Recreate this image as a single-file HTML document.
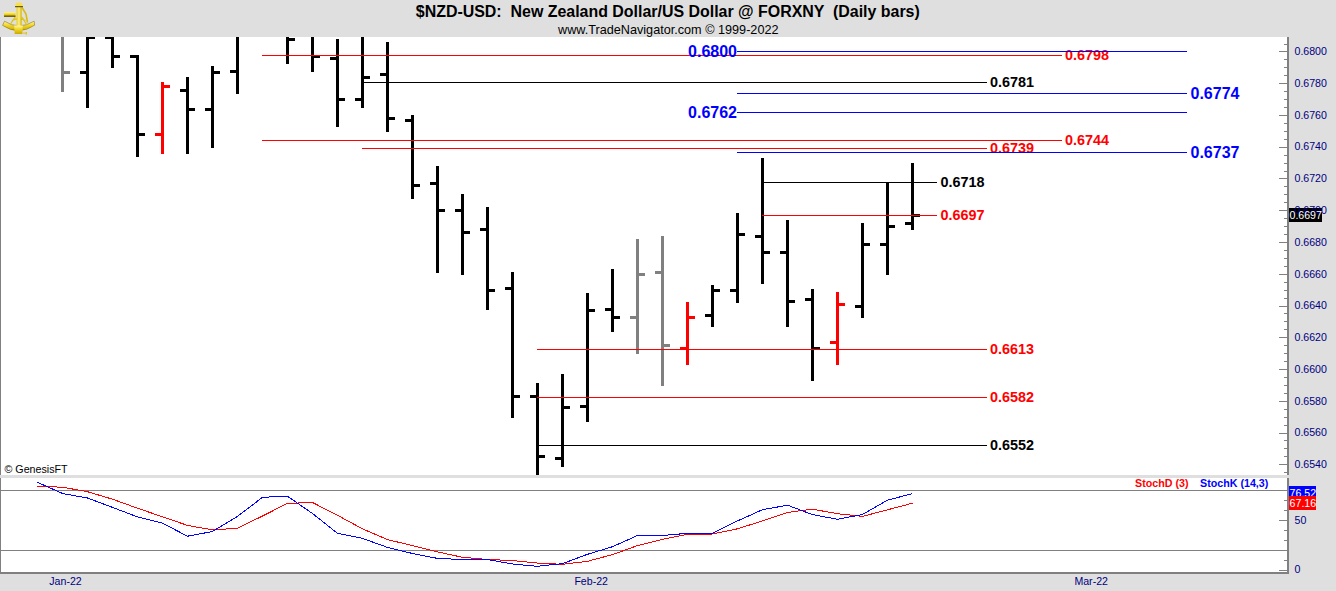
<!DOCTYPE html>
<html><head><meta charset="utf-8"><title>NZD-USD</title>
<style>html,body{margin:0;padding:0;width:1336px;height:591px;overflow:hidden;background:#dfdfdf;}
svg text{font-family:"Liberation Sans",sans-serif;}</style></head>
<body>
<svg width="1336" height="591" viewBox="0 0 1336 591" style="position:absolute;left:0;top:0;font-family:'Liberation Sans',sans-serif">
<rect x="0" y="0" width="1336" height="591" fill="#dfdfdf"/>
<g shape-rendering="crispEdges">
<rect x="0" y="37" width="1287" height="438" fill="#fff"/>
<rect x="0" y="478" width="1287" height="94" fill="#fff"/>
<rect x="0" y="37" width="1" height="438" fill="#808080"/>
<rect x="0" y="478" width="1" height="96" fill="#808080"/>
<rect x="0" y="572" width="1289" height="2" fill="#808080"/>
<rect x="1287" y="37" width="2" height="438" fill="#808080"/>
<rect x="1287" y="478" width="2" height="96" fill="#808080"/>
<rect x="1" y="490" width="1286" height="1" fill="#808080"/>
<rect x="1" y="550" width="1286" height="1" fill="#808080"/>
<rect x="1284" y="44" width="3" height="1" fill="#808080"/><rect x="1279" y="51" width="8" height="1" fill="#808080"/><rect x="1284" y="59" width="3" height="1" fill="#808080"/><rect x="1284" y="67" width="3" height="1" fill="#808080"/><rect x="1284" y="75" width="3" height="1" fill="#808080"/><rect x="1279" y="83" width="8" height="1" fill="#808080"/><rect x="1284" y="91" width="3" height="1" fill="#808080"/><rect x="1284" y="99" width="3" height="1" fill="#808080"/><rect x="1284" y="107" width="3" height="1" fill="#808080"/><rect x="1279" y="115" width="8" height="1" fill="#808080"/><rect x="1284" y="123" width="3" height="1" fill="#808080"/><rect x="1284" y="131" width="3" height="1" fill="#808080"/><rect x="1284" y="139" width="3" height="1" fill="#808080"/><rect x="1279" y="147" width="8" height="1" fill="#808080"/><rect x="1284" y="155" width="3" height="1" fill="#808080"/><rect x="1284" y="163" width="3" height="1" fill="#808080"/><rect x="1284" y="171" width="3" height="1" fill="#808080"/><rect x="1279" y="178" width="8" height="1" fill="#808080"/><rect x="1284" y="186" width="3" height="1" fill="#808080"/><rect x="1284" y="194" width="3" height="1" fill="#808080"/><rect x="1284" y="202" width="3" height="1" fill="#808080"/><rect x="1279" y="210" width="8" height="1" fill="#808080"/><rect x="1284" y="218" width="3" height="1" fill="#808080"/><rect x="1284" y="226" width="3" height="1" fill="#808080"/><rect x="1284" y="234" width="3" height="1" fill="#808080"/><rect x="1279" y="242" width="8" height="1" fill="#808080"/><rect x="1284" y="250" width="3" height="1" fill="#808080"/><rect x="1284" y="258" width="3" height="1" fill="#808080"/><rect x="1284" y="266" width="3" height="1" fill="#808080"/><rect x="1279" y="274" width="8" height="1" fill="#808080"/><rect x="1284" y="282" width="3" height="1" fill="#808080"/><rect x="1284" y="290" width="3" height="1" fill="#808080"/><rect x="1284" y="298" width="3" height="1" fill="#808080"/><rect x="1279" y="306" width="8" height="1" fill="#808080"/><rect x="1284" y="313" width="3" height="1" fill="#808080"/><rect x="1284" y="321" width="3" height="1" fill="#808080"/><rect x="1284" y="329" width="3" height="1" fill="#808080"/><rect x="1279" y="337" width="8" height="1" fill="#808080"/><rect x="1284" y="345" width="3" height="1" fill="#808080"/><rect x="1284" y="353" width="3" height="1" fill="#808080"/><rect x="1284" y="361" width="3" height="1" fill="#808080"/><rect x="1279" y="369" width="8" height="1" fill="#808080"/><rect x="1284" y="377" width="3" height="1" fill="#808080"/><rect x="1284" y="385" width="3" height="1" fill="#808080"/><rect x="1284" y="393" width="3" height="1" fill="#808080"/><rect x="1279" y="401" width="8" height="1" fill="#808080"/><rect x="1284" y="409" width="3" height="1" fill="#808080"/><rect x="1284" y="417" width="3" height="1" fill="#808080"/><rect x="1284" y="425" width="3" height="1" fill="#808080"/><rect x="1279" y="433" width="8" height="1" fill="#808080"/><rect x="1284" y="440" width="3" height="1" fill="#808080"/><rect x="1284" y="448" width="3" height="1" fill="#808080"/><rect x="1284" y="456" width="3" height="1" fill="#808080"/><rect x="1279" y="464" width="8" height="1" fill="#808080"/><rect x="1284" y="472" width="3" height="1" fill="#808080"/>
<rect x="1279" y="570" width="8" height="1" fill="#808080"/><rect x="1284" y="560" width="3" height="1" fill="#808080"/><rect x="1284" y="550" width="3" height="1" fill="#808080"/><rect x="1284" y="540" width="3" height="1" fill="#808080"/><rect x="1284" y="530" width="3" height="1" fill="#808080"/><rect x="1279" y="520" width="8" height="1" fill="#808080"/><rect x="1284" y="510" width="3" height="1" fill="#808080"/><rect x="1284" y="500" width="3" height="1" fill="#808080"/><rect x="1284" y="490" width="3" height="1" fill="#808080"/>
<rect x="61" y="37" width="3" height="55" fill="#808080"/><rect x="64" y="71" width="6" height="3" fill="#808080"/><rect x="86" y="37" width="3" height="71" fill="#000"/><rect x="80" y="71" width="6" height="3" fill="#000"/><rect x="89" y="37" width="6" height="2" fill="#000"/><rect x="111" y="37" width="3" height="31" fill="#000"/><rect x="105" y="37" width="6" height="2" fill="#000"/><rect x="114" y="55" width="6" height="3" fill="#000"/><rect x="136" y="55" width="3" height="102" fill="#000"/><rect x="130" y="55" width="6" height="3" fill="#000"/><rect x="139" y="133" width="6" height="3" fill="#000"/><rect x="161" y="82" width="3" height="72" fill="#f00"/><rect x="155" y="133" width="6" height="3" fill="#f00"/><rect x="164" y="85" width="6" height="3" fill="#f00"/><rect x="186" y="77" width="3" height="77" fill="#000"/><rect x="180" y="89" width="6" height="3" fill="#000"/><rect x="189" y="108" width="6" height="3" fill="#000"/><rect x="211" y="66" width="3" height="82" fill="#000"/><rect x="205" y="108" width="6" height="3" fill="#000"/><rect x="214" y="71" width="6" height="3" fill="#000"/><rect x="236" y="37" width="3" height="57" fill="#000"/><rect x="230" y="70" width="6" height="3" fill="#000"/><rect x="286" y="37" width="3" height="27" fill="#000"/><rect x="289" y="38" width="6" height="3" fill="#000"/><rect x="311" y="37" width="3" height="35" fill="#000"/><rect x="314" y="55" width="6" height="3" fill="#000"/><rect x="336" y="39" width="3" height="88" fill="#000"/><rect x="330" y="57" width="6" height="3" fill="#000"/><rect x="339" y="98" width="6" height="3" fill="#000"/><rect x="361" y="37" width="3" height="71" fill="#000"/><rect x="355" y="98" width="6" height="3" fill="#000"/><rect x="364" y="76" width="6" height="3" fill="#000"/><rect x="386" y="42" width="3" height="90" fill="#000"/><rect x="380" y="73" width="6" height="3" fill="#000"/><rect x="389" y="117" width="6" height="3" fill="#000"/><rect x="411" y="115" width="3" height="84" fill="#000"/><rect x="405" y="119" width="6" height="3" fill="#000"/><rect x="414" y="184" width="6" height="3" fill="#000"/><rect x="436" y="166" width="3" height="107" fill="#000"/><rect x="430" y="182" width="6" height="3" fill="#000"/><rect x="439" y="209" width="6" height="3" fill="#000"/><rect x="461" y="194" width="3" height="81" fill="#000"/><rect x="455" y="209" width="6" height="3" fill="#000"/><rect x="464" y="231" width="6" height="3" fill="#000"/><rect x="486" y="207" width="3" height="103" fill="#000"/><rect x="480" y="228" width="6" height="3" fill="#000"/><rect x="489" y="289" width="6" height="3" fill="#000"/><rect x="511" y="272" width="3" height="146" fill="#000"/><rect x="505" y="287" width="6" height="3" fill="#000"/><rect x="514" y="395" width="6" height="3" fill="#000"/><rect x="536" y="383" width="3" height="92" fill="#000"/><rect x="530" y="395" width="6" height="3" fill="#000"/><rect x="539" y="455" width="6" height="3" fill="#000"/><rect x="561" y="374" width="3" height="93" fill="#000"/><rect x="555" y="457" width="6" height="3" fill="#000"/><rect x="564" y="406" width="6" height="3" fill="#000"/><rect x="586" y="293" width="3" height="129" fill="#000"/><rect x="580" y="405" width="6" height="3" fill="#000"/><rect x="589" y="309" width="6" height="3" fill="#000"/><rect x="611" y="269" width="3" height="63" fill="#000"/><rect x="605" y="308" width="6" height="3" fill="#000"/><rect x="614" y="316" width="6" height="3" fill="#000"/><rect x="636" y="239" width="3" height="115" fill="#808080"/><rect x="630" y="316" width="6" height="3" fill="#808080"/><rect x="639" y="273" width="6" height="3" fill="#808080"/><rect x="661" y="236" width="3" height="150" fill="#808080"/><rect x="655" y="271" width="6" height="3" fill="#808080"/><rect x="664" y="344" width="6" height="3" fill="#808080"/><rect x="686" y="302" width="3" height="63" fill="#f00"/><rect x="680" y="347" width="6" height="3" fill="#f00"/><rect x="689" y="316" width="6" height="3" fill="#f00"/><rect x="711" y="285" width="3" height="42" fill="#000"/><rect x="705" y="314" width="6" height="3" fill="#000"/><rect x="714" y="289" width="6" height="3" fill="#000"/><rect x="736" y="213" width="3" height="90" fill="#000"/><rect x="730" y="289" width="6" height="3" fill="#000"/><rect x="739" y="233" width="6" height="3" fill="#000"/><rect x="761" y="158" width="3" height="126" fill="#000"/><rect x="755" y="235" width="6" height="3" fill="#000"/><rect x="764" y="251" width="6" height="3" fill="#000"/><rect x="786" y="220" width="3" height="107" fill="#000"/><rect x="780" y="251" width="6" height="3" fill="#000"/><rect x="789" y="300" width="6" height="3" fill="#000"/><rect x="811" y="289" width="3" height="92" fill="#000"/><rect x="805" y="298" width="6" height="3" fill="#000"/><rect x="814" y="347" width="6" height="3" fill="#000"/><rect x="836" y="292" width="3" height="73" fill="#f00"/><rect x="830" y="341" width="6" height="3" fill="#f00"/><rect x="839" y="303" width="6" height="3" fill="#f00"/><rect x="861" y="223" width="3" height="95" fill="#000"/><rect x="855" y="305" width="6" height="3" fill="#000"/><rect x="864" y="243" width="6" height="3" fill="#000"/><rect x="886" y="183" width="3" height="92" fill="#000"/><rect x="880" y="243" width="6" height="3" fill="#000"/><rect x="889" y="225" width="6" height="3" fill="#000"/><rect x="911" y="163" width="3" height="67" fill="#000"/><rect x="905" y="222" width="6" height="3" fill="#000"/><rect x="914" y="214" width="6" height="3" fill="#000"/>
<rect x="1289" y="208" width="33" height="14" fill="#000"/>
<rect x="1289" y="486" width="27" height="10" fill="#00f"/>
</g>
<polyline points="37.5,486.3 62.5,487.2 87.5,491.7 112.5,499.2 137.5,508.2 162.5,516.8 187.5,525.4 212.5,529.9 237.5,528.3 262.5,516 287.5,503.4 312.5,502.5 337.5,515.3 362.5,528.8 387.5,539.6 412.5,545.6 437.5,551.9 462.5,557.3 487.5,559.5 512.5,560.5 537.5,563.1 562.5,564.3 587.5,561.3 612.5,554.6 637.5,545.6 662.5,539.3 687.5,534.4 712.5,534 737.5,528.8 762.5,520.9 787.5,512.4 812.5,509.2 837.5,513.7 862.5,516.4 887.5,509.8 912.5,503.2" fill="none" stroke="#f00" stroke-width="1" shape-rendering="crispEdges"/>
<polyline points="37.5,482.3 62.5,493.5 87.5,498 112.5,507.4 137.5,516.9 162.5,523.2 187.5,536.2 212.5,531.5 237.5,516.4 262.5,497.3 287.5,496.2 312.5,513.5 337.5,533.3 362.5,538.4 387.5,547.4 412.5,553.5 437.5,558.4 462.5,559.5 487.5,559.5 512.5,564 537.5,566.3 562.5,563.6 587.5,554.3 612.5,546.7 637.5,535.5 662.5,535.5 687.5,533.3 712.5,533.3 737.5,520.9 762.5,509.7 787.5,505.2 812.5,514.6 837.5,519.3 862.5,514.5 887.5,500.2 912.5,493.6" fill="none" stroke="#00f" stroke-width="1" shape-rendering="crispEdges"/>
<rect x="262" y="55" width="800" height="1" fill="#f00" shape-rendering="crispEdges"/><text x="1065" y="59.85" fill="#f00" font-size="15.2" font-weight="bold" textLength="44" lengthAdjust="spacingAndGlyphs" text-anchor="start">0.6798</text><rect x="262" y="140" width="800" height="1" fill="#f00" shape-rendering="crispEdges"/><text x="1065" y="144.85" fill="#f00" font-size="15.2" font-weight="bold" textLength="44" lengthAdjust="spacingAndGlyphs" text-anchor="start">0.6744</text><rect x="362" y="148" width="625" height="1" fill="#f00" shape-rendering="crispEdges"/><text x="990" y="152.85" fill="#f00" font-size="15.2" font-weight="bold" textLength="44" lengthAdjust="spacingAndGlyphs" text-anchor="start">0.6739</text><rect x="762" y="215" width="175" height="1" fill="#f00" shape-rendering="crispEdges"/><text x="940.5" y="219.85" fill="#f00" font-size="15.2" font-weight="bold" textLength="44" lengthAdjust="spacingAndGlyphs" text-anchor="start">0.6697</text><rect x="537" y="349" width="450" height="1" fill="#f00" shape-rendering="crispEdges"/><text x="990" y="353.85" fill="#f00" font-size="15.2" font-weight="bold" textLength="44" lengthAdjust="spacingAndGlyphs" text-anchor="start">0.6613</text><rect x="537" y="397" width="450" height="1" fill="#f00" shape-rendering="crispEdges"/><text x="990" y="401.85" fill="#f00" font-size="15.2" font-weight="bold" textLength="44" lengthAdjust="spacingAndGlyphs" text-anchor="start">0.6582</text><rect x="362" y="82" width="625" height="1" fill="#000" shape-rendering="crispEdges"/><text x="990" y="86.85" fill="#000" font-size="15.2" font-weight="bold" textLength="44" lengthAdjust="spacingAndGlyphs" text-anchor="start">0.6781</text><rect x="762" y="182" width="175" height="1" fill="#000" shape-rendering="crispEdges"/><text x="940.5" y="186.85" fill="#000" font-size="15.2" font-weight="bold" textLength="44" lengthAdjust="spacingAndGlyphs" text-anchor="start">0.6718</text><rect x="537" y="445" width="450" height="1" fill="#000" shape-rendering="crispEdges"/><text x="990" y="449.85" fill="#000" font-size="15.2" font-weight="bold" textLength="44" lengthAdjust="spacingAndGlyphs" text-anchor="start">0.6552</text><rect x="737" y="51" width="450" height="1" fill="#00f" shape-rendering="crispEdges"/><text x="737" y="57.23" fill="#00f" font-size="16" font-weight="bold" text-anchor="end">0.6800</text><rect x="737" y="93" width="450" height="1" fill="#00f" shape-rendering="crispEdges"/><text x="1190.5" y="99.23" fill="#00f" font-size="16" font-weight="bold" text-anchor="start">0.6774</text><rect x="737" y="112" width="450" height="1" fill="#00f" shape-rendering="crispEdges"/><text x="737" y="118.23" fill="#00f" font-size="16" font-weight="bold" text-anchor="end">0.6762</text><rect x="737" y="152" width="450" height="1" fill="#00f" shape-rendering="crispEdges"/><text x="1190.5" y="158.23" fill="#00f" font-size="16" font-weight="bold" text-anchor="start">0.6737</text>
<text x="1294.5" y="55.20" fill="#000080" font-size="10.6">0.6800</text><text x="1294.5" y="86.96" fill="#000080" font-size="10.6">0.6780</text><text x="1294.5" y="118.72" fill="#000080" font-size="10.6">0.6760</text><text x="1294.5" y="150.48" fill="#000080" font-size="10.6">0.6740</text><text x="1294.5" y="182.24" fill="#000080" font-size="10.6">0.6720</text><text x="1294.5" y="214.00" fill="#000080" font-size="10.6">0.6700</text><text x="1294.5" y="245.76" fill="#000080" font-size="10.6">0.6680</text><text x="1294.5" y="277.52" fill="#000080" font-size="10.6">0.6660</text><text x="1294.5" y="309.28" fill="#000080" font-size="10.6">0.6640</text><text x="1294.5" y="341.04" fill="#000080" font-size="10.6">0.6620</text><text x="1294.5" y="372.80" fill="#000080" font-size="10.6">0.6600</text><text x="1294.5" y="404.56" fill="#000080" font-size="10.6">0.6580</text><text x="1294.5" y="436.32" fill="#000080" font-size="10.6">0.6560</text><text x="1294.5" y="468.08" fill="#000080" font-size="10.6">0.6540</text>
<text x="1294.5" y="524.2" fill="#000080" font-size="10.6">50</text><text x="1294.5" y="573.2" fill="#000080" font-size="10.6">0</text>
<text x="1289.5" y="219" fill="#fff" font-size="10.6">0.6697</text>
<text x="1289.6" y="497" fill="#fff" font-size="10.6">76.52</text>
<rect x="1289" y="496" width="27" height="14" fill="#f00" shape-rendering="crispEdges"/>
<text x="1289.6" y="507" fill="#fff" font-size="10.6">67.16</text>
<text x="415.8" y="16.8" fill="#000" font-size="16" font-weight="bold" textLength="504" lengthAdjust="spacingAndGlyphs" xml:space="preserve">$NZD-USD:  New Zealand Dollar/US Dollar @ FORXNY  (Daily bars)</text>
<text x="558" y="34" fill="#000" font-size="13" textLength="220.5" lengthAdjust="spacingAndGlyphs">www.TradeNavigator.com © 1999-2022</text>
<text x="4.5" y="473" fill="#000" font-size="10.7">© GenesisFT</text>
<text x="1135" y="486.7" fill="#f00" font-size="10.7" font-weight="bold">StochD (3)</text>
<text x="1200" y="486.7" fill="#00f" font-size="10.7" font-weight="bold">StochK (14,3)</text>
<text x="49.3" y="584.8" fill="#000080" font-size="10.6">Jan-22</text>
<text x="574.4" y="584.8" fill="#000080" font-size="10.6">Feb-22</text>
<text x="1074.4" y="584.8" fill="#000080" font-size="10.6">Mar-22</text>

<g>
  <defs>
    <linearGradient id="gold" x1="0" y1="0" x2="0" y2="1">
      <stop offset="0" stop-color="#fff6a0"/>
      <stop offset="0.45" stop-color="#f0d628"/>
      <stop offset="1" stop-color="#c8a800"/>
    </linearGradient>
    <linearGradient id="goldh" x1="0" y1="0" x2="1" y2="0">
      <stop offset="0" stop-color="#e8cc20"/>
      <stop offset="0.5" stop-color="#fff080"/>
      <stop offset="1" stop-color="#d0b000"/>
    </linearGradient>
  </defs>
  <path d="M4.5,21.2 Q18.5,30.5 34.2,21.2 L34.6,25.2 Q18.5,36 2.6,25.4 Z" fill="url(#gold)" stroke="#7a6400" stroke-width="0.5"/>
  <path d="M10.5,24 L15.5,16.5 M26.5,24.5 L22,17 M12,20.5 Q18.5,17 25.5,20.5" fill="none" stroke="#e0c418" stroke-width="1.3"/>
  <path d="M22,7.5 L26,14 L27.5,22.5" fill="none" stroke="#d8bc10" stroke-width="1.6"/>
  <rect x="4" y="12" width="11.5" height="4.6" rx="1" fill="url(#gold)"/>
  <rect x="4" y="15.6" width="11.5" height="1.2" fill="#5a4a00"/>
  <rect x="16.6" y="5.5" width="5" height="23" fill="url(#goldh)"/>
  <ellipse cx="19" cy="4.8" rx="3.6" ry="2.2" fill="#f8e048"/>
  <rect x="15" y="6.2" width="8" height="1" fill="#4a3c00"/>
  <path d="M14.2,25.5 L22.8,25.5 L22.3,34 L14.7,34 Z" fill="url(#gold)"/>
  <rect x="25.5" y="32" width="1.5" height="2.5" fill="#e0c418"/>
  <rect x="22.5" y="32.6" width="3" height="1" fill="#e0c418"/>
</g>

</svg>
</body></html>
